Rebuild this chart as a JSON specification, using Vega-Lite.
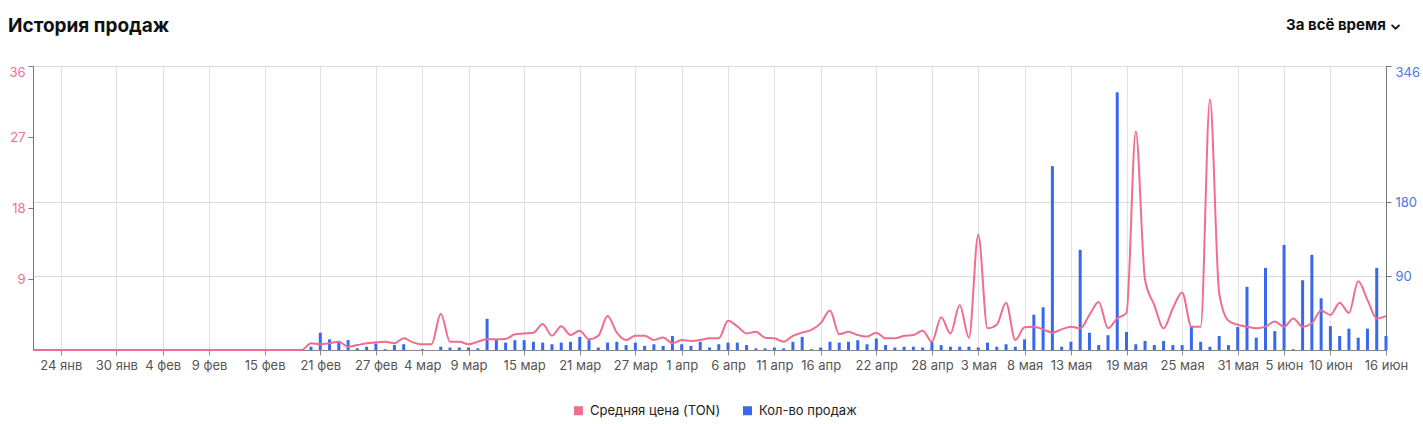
{
  "$schema": "https://vega.github.io/schema/vega-lite/v6.json",
  "autosize": {"type": "none"},
  "width": 1353,
  "height": 284,
  "padding": {"left": 33, "top": 66, "right": 37, "bottom": 74},
  "background": "white",
  "title": {"text": "История продаж", "anchor": "start", "frame": "group", "fontSize": 19, "fontWeight": "bold", "color": "#111111", "font": "Inter", "baseline": "alphabetic", "offset": 0, "dx": -25, "dy": 34},
  "data": {"values": [
    {"d":"2025-01-21","p":0,"c":0},{"d":"2025-01-22","p":0,"c":0},{"d":"2025-01-23","p":0,"c":0},{"d":"2025-01-24","p":0,"c":0},{"d":"2025-01-25","p":0,"c":0},{"d":"2025-01-26","p":0,"c":0},{"d":"2025-01-27","p":0,"c":0},{"d":"2025-01-28","p":0,"c":0},{"d":"2025-01-29","p":0,"c":0},{"d":"2025-01-30","p":0,"c":0},{"d":"2025-01-31","p":0,"c":0},
    {"d":"2025-02-01","p":0,"c":0},{"d":"2025-02-02","p":0,"c":0},{"d":"2025-02-03","p":0,"c":0},{"d":"2025-02-04","p":0,"c":0},{"d":"2025-02-05","p":0,"c":0},{"d":"2025-02-06","p":0,"c":0},{"d":"2025-02-07","p":0,"c":0},{"d":"2025-02-08","p":0,"c":0},{"d":"2025-02-09","p":0,"c":0},{"d":"2025-02-10","p":0,"c":0},{"d":"2025-02-11","p":0,"c":0},{"d":"2025-02-12","p":0,"c":0},{"d":"2025-02-13","p":0,"c":0},{"d":"2025-02-14","p":0,"c":0},{"d":"2025-02-15","p":0,"c":0},{"d":"2025-02-16","p":0,"c":0},{"d":"2025-02-17","p":0,"c":0},{"d":"2025-02-18","p":0,"c":0},{"d":"2025-02-19","p":0,"c":0},
    {"d":"2025-02-20","p":0.85,"c":4},{"d":"2025-02-21","p":0.72,"c":21},{"d":"2025-02-22","p":0.85,"c":13},{"d":"2025-02-23","p":1.05,"c":11},{"d":"2025-02-24","p":0.42,"c":12},{"d":"2025-02-25","p":0.63,"c":2},{"d":"2025-02-26","p":0.85,"c":4},{"d":"2025-02-27","p":0.97,"c":8},{"d":"2025-02-28","p":1.05,"c":1},
    {"d":"2025-03-01","p":0.85,"c":6},{"d":"2025-03-02","p":1.48,"c":7},{"d":"2025-03-03","p":0.97,"c":0},{"d":"2025-03-04","p":0.72,"c":1},{"d":"2025-03-05","p":0.72,"c":0},{"d":"2025-03-06","p":4.6,"c":4},{"d":"2025-03-07","p":1.05,"c":3},{"d":"2025-03-08","p":1.05,"c":3},{"d":"2025-03-09","p":0.72,"c":3},{"d":"2025-03-10","p":1.05,"c":2},
    {"d":"2025-03-11","p":1.35,"c":38},{"d":"2025-03-12","p":1.35,"c":12},{"d":"2025-03-13","p":1.4,"c":9},{"d":"2025-03-14","p":2.0,"c":12},{"d":"2025-03-15","p":2.1,"c":12},{"d":"2025-03-16","p":2.2,"c":10},{"d":"2025-03-17","p":3.3,"c":9},{"d":"2025-03-18","p":1.8,"c":7},{"d":"2025-03-19","p":3.0,"c":9},{"d":"2025-03-20","p":1.9,"c":10},
    {"d":"2025-03-21","p":2.45,"c":16},{"d":"2025-03-22","p":1.35,"c":12},{"d":"2025-03-23","p":1.8,"c":3},{"d":"2025-03-24","p":4.3,"c":9},{"d":"2025-03-25","p":2.2,"c":10},{"d":"2025-03-26","p":1.27,"c":6},{"d":"2025-03-27","p":1.8,"c":9},{"d":"2025-03-28","p":1.8,"c":5},{"d":"2025-03-29","p":1.27,"c":7},{"d":"2025-03-30","p":1.6,"c":5},{"d":"2025-03-31","p":0.85,"c":17},
    {"d":"2025-04-01","p":1.27,"c":7},{"d":"2025-04-02","p":1.15,"c":5},{"d":"2025-04-03","p":1.27,"c":10},{"d":"2025-04-04","p":1.48,"c":3},{"d":"2025-04-05","p":1.48,"c":7},{"d":"2025-04-06","p":3.7,"c":9},{"d":"2025-04-07","p":3.0,"c":9},{"d":"2025-04-08","p":2.1,"c":6},{"d":"2025-04-09","p":2.3,"c":2},{"d":"2025-04-10","p":1.56,"c":2},
    {"d":"2025-04-11","p":1.48,"c":3},{"d":"2025-04-12","p":1.05,"c":2},{"d":"2025-04-13","p":1.8,"c":10},{"d":"2025-04-14","p":2.2,"c":16},{"d":"2025-04-15","p":2.55,"c":1},{"d":"2025-04-16","p":3.4,"c":3},{"d":"2025-04-17","p":5.0,"c":10},{"d":"2025-04-18","p":2.0,"c":9},{"d":"2025-04-19","p":2.3,"c":10},{"d":"2025-04-20","p":1.9,"c":12},
    {"d":"2025-04-21","p":1.7,"c":7},{"d":"2025-04-22","p":2.2,"c":14},{"d":"2025-04-23","p":1.48,"c":6},{"d":"2025-04-24","p":1.48,"c":3},{"d":"2025-04-25","p":1.8,"c":4},{"d":"2025-04-26","p":1.9,"c":4},{"d":"2025-04-27","p":2.45,"c":3},{"d":"2025-04-28","p":1.05,"c":10},{"d":"2025-04-29","p":4.15,"c":6},{"d":"2025-04-30","p":2.1,"c":4},
    {"d":"2025-05-01","p":5.7,"c":4},{"d":"2025-05-02","p":1.56,"c":4},{"d":"2025-05-03","p":14.6,"c":3},{"d":"2025-05-04","p":2.75,"c":9},{"d":"2025-05-05","p":3.2,"c":4},{"d":"2025-05-06","p":6.0,"c":7},{"d":"2025-05-07","p":1.27,"c":4},{"d":"2025-05-08","p":2.87,"c":13},{"d":"2025-05-09","p":2.96,"c":43},{"d":"2025-05-10","p":2.62,"c":52},
    {"d":"2025-05-11","p":2.2,"c":224},{"d":"2025-05-12","p":2.62,"c":4},{"d":"2025-05-13","p":2.96,"c":10},{"d":"2025-05-14","p":2.75,"c":122},{"d":"2025-05-15","p":4.45,"c":21},{"d":"2025-05-16","p":6.1,"c":6},{"d":"2025-05-17","p":2.75,"c":18},{"d":"2025-05-18","p":4.0,"c":314},{"d":"2025-05-19","p":4.7,"c":22},{"d":"2025-05-20","p":27.7,"c":7},
    {"d":"2025-05-21","p":8.9,"c":11},{"d":"2025-05-22","p":5.7,"c":6},{"d":"2025-05-23","p":2.75,"c":11},{"d":"2025-05-24","p":5.3,"c":6},{"d":"2025-05-25","p":7.3,"c":6},{"d":"2025-05-26","p":2.96,"c":28},{"d":"2025-05-27","p":2.96,"c":10},{"d":"2025-05-28","p":31.8,"c":4},{"d":"2025-05-29","p":7.2,"c":17},{"d":"2025-05-30","p":3.7,"c":6},{"d":"2025-05-31","p":3.2,"c":28},
    {"d":"2025-06-01","p":2.96,"c":77},{"d":"2025-06-02","p":2.75,"c":15},{"d":"2025-06-03","p":2.96,"c":100},{"d":"2025-06-04","p":3.6,"c":23},{"d":"2025-06-05","p":2.96,"c":128},{"d":"2025-06-06","p":4.0,"c":1},{"d":"2025-06-07","p":2.96,"c":85},{"d":"2025-06-08","p":3.4,"c":116},{"d":"2025-06-09","p":5.0,"c":63},{"d":"2025-06-10","p":4.45,"c":29},
    {"d":"2025-06-11","p":6.0,"c":17},{"d":"2025-06-12","p":4.7,"c":26},{"d":"2025-06-13","p":8.7,"c":15},{"d":"2025-06-14","p":6.35,"c":26},{"d":"2025-06-15","p":4.0,"c":100},{"d":"2025-06-16","p":4.3,"c":17}
  ]},
  "layer": [
    {
      "mark": {"type": "bar", "width": 3},
      "encoding": {
        "x": {"field": "d", "type": "temporal",
          "scale": {"type": "utc", "nice": false, "padding": 0, "domain": [{"year": 2025, "month": 1, "date": 21, "utc": true}, {"year": 2025, "month": 6, "date": 16, "utc": true}]},
          "axis": {"orient": "top", "labels": false, "ticks": false, "domain": false, "grid": false,
            "title": "За всё время  ⌄", "titleFont": "Inter", "titleFontSize": 15, "titleFontWeight": "bold", "titleColor": "#111111",
            "titleAnchor": "end", "titleAlign": "right", "titleX": 1368, "titlePadding": 34}},
        "y": {"field": "c", "type": "quantitative", "scale": {"domain": [0, 346], "nice": false},
          "axis": {"orient": "right", "values": [90, 180, 346], "title": null, "grid": true, "gridColor": "#dadada",
            "labelColor": "#4a76e6", "labelFlush": true, "labelPadding": 4, "tickSize": 5, "tickColor": "#777777", "domainColor": "#777777", "labelFontSize": 13, "labelFont": "Inter"}},
        "color": {"datum": "Кол-во продаж", "type": "nominal",
          "scale": {"domain": ["Средняя цена (TON)", "Кол-во продаж"], "range": ["#f06d8f", "#3868ec"]},
          "legend": {"orient": "none", "legendX": 539, "legendY": 338, "direction": "horizontal", "title": null,
            "symbolType": "square", "symbolSize": 81, "labelFont": "Inter", "labelFontSize": 13, "labelColor": "#222222",
            "columnPadding": 20, "labelOffset": 5, "symbolStrokeWidth": 0,
            "encode": {"symbols": {"update": {"fill": {"scale": "color", "field": "value"}, "opacity": {"value": 1}}}}}
        }
      }
    },
    {
      "mark": {"type": "line", "interpolate": "monotone", "strokeWidth": 2},
      "encoding": {
        "x": {"field": "d", "type": "temporal",
          "axis": {"orient": "bottom", "title": null, "grid": true, "gridColor": "#e2e2e2", "labelOverlap": false, "labelFlush": false,
            "values": [
              {"year": 2025, "month": 1, "date": 24, "utc": true}, {"year": 2025, "month": 1, "date": 30, "utc": true},
              {"year": 2025, "month": 2, "date": 4, "utc": true}, {"year": 2025, "month": 2, "date": 9, "utc": true},
              {"year": 2025, "month": 2, "date": 15, "utc": true}, {"year": 2025, "month": 2, "date": 21, "utc": true},
              {"year": 2025, "month": 2, "date": 27, "utc": true}, {"year": 2025, "month": 3, "date": 4, "utc": true},
              {"year": 2025, "month": 3, "date": 9, "utc": true}, {"year": 2025, "month": 3, "date": 15, "utc": true},
              {"year": 2025, "month": 3, "date": 21, "utc": true}, {"year": 2025, "month": 3, "date": 27, "utc": true},
              {"year": 2025, "month": 4, "date": 1, "utc": true}, {"year": 2025, "month": 4, "date": 6, "utc": true},
              {"year": 2025, "month": 4, "date": 11, "utc": true}, {"year": 2025, "month": 4, "date": 16, "utc": true},
              {"year": 2025, "month": 4, "date": 22, "utc": true}, {"year": 2025, "month": 4, "date": 28, "utc": true},
              {"year": 2025, "month": 5, "date": 3, "utc": true}, {"year": 2025, "month": 5, "date": 8, "utc": true},
              {"year": 2025, "month": 5, "date": 13, "utc": true}, {"year": 2025, "month": 5, "date": 19, "utc": true},
              {"year": 2025, "month": 5, "date": 25, "utc": true}, {"year": 2025, "month": 5, "date": 31, "utc": true},
              {"year": 2025, "month": 6, "date": 5, "utc": true}, {"year": 2025, "month": 6, "date": 10, "utc": true},
              {"year": 2025, "month": 6, "date": 16, "utc": true}
            ],
            "labelExpr": "utcdate(datum.value) + ' ' + ['янв','фев','мар','апр','мая','июн','июл'][utcmonth(datum.value)]",
            "labelColor": "#555555", "labelFontSize": 13, "labelFont": "Inter", "labelPadding": 4, "tickSize": 5, "tickColor": "#888888", "domainColor": "#888888"}},
        "y": {"field": "p", "type": "quantitative", "scale": {"domain": [0, 36], "nice": false},
          "axis": {"orient": "left", "values": [9, 18, 27, 36], "title": null, "grid": false,
            "labelColor": "#ee7095", "labelFlush": true, "labelPadding": 3, "tickSize": 5, "tickColor": "#777777", "domainColor": "#777777", "labelFontSize": 13, "labelFont": "Inter"}},
        "color": {"datum": "Средняя цена (TON)", "type": "nominal"}
      }
    }
  ],
  "resolve": {"scale": {"y": "independent"}, "axis": {"x": "independent", "y": "independent"}},
  "config": {"view": {"stroke": null}, "font": "Inter"}
}
